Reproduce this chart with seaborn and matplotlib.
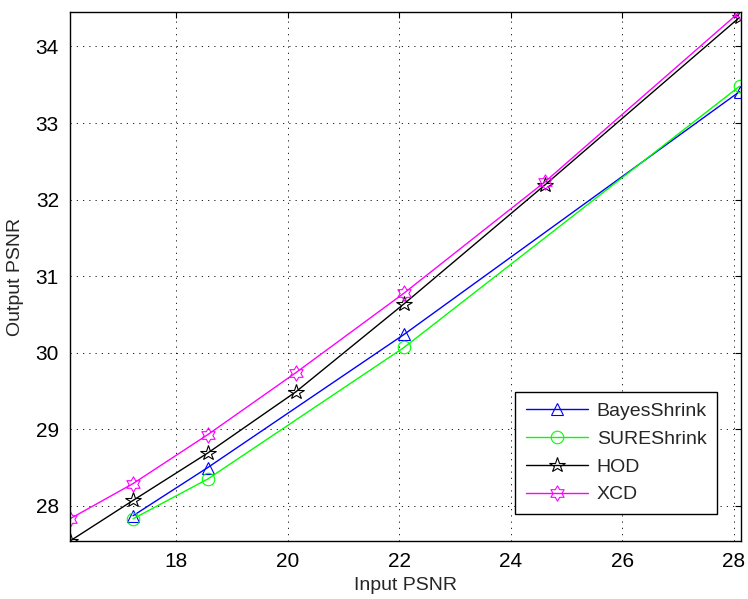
import matplotlib
matplotlib.use("Agg")
import matplotlib.pyplot as plt
from matplotlib.path import Path
import seaborn as sns

# Input PSNR levels (dB)
x_all = [16.1, 17.23, 18.57, 20.15, 22.09, 24.61, 28.1]
x_shrink = [17.23, 18.57, 22.09, 28.1]

# Output PSNR (dB) for each denoising method
bayes_shrink = [27.87, 28.50, 30.24, 33.41]
sure_shrink = [27.83, 28.35, 30.07, 33.48]
hod = [27.54, 28.07, 28.69, 29.49, 30.64, 32.19, 34.38]
xcd = [27.83, 28.29, 28.93, 29.74, 30.78, 32.23, 34.45]

x_ticks = [18, 20, 22, 24, 26, 28]
y_ticks = [28, 29, 30, 31, 32, 33, 34]

sns.set_style("white")
plt.rcParams["font.family"] = ["Liberation Sans", "DejaVu Sans"]

fig = plt.figure(figsize=(7.48, 5.99), dpi=100)
ax = fig.add_axes([70 / 748, 1 - 541 / 599, (740.7 - 70) / 748, (541 - 12) / 599])

# six-pointed open star (hexagram)
hexagram = Path.unit_regular_star(6, 0.577)

series = [
    ("BayesShrink", x_shrink, bayes_shrink, "#0000ff", "^", 9),
    ("SUREShrink", x_shrink, sure_shrink, "#00ff00", "o", 9),
    ("HOD", x_all, hod, "#000000", "*", 11.5),
    ("XCD", x_all, xcd, "#ff00ff", hexagram, 11),
]

for name, xs, ys, color, marker, ms in series:
    sns.lineplot(x=xs, y=ys, ax=ax, color=color, marker=marker, markersize=ms,
                 markerfacecolor="none", markeredgecolor=color,
                 markeredgewidth=0.8, linewidth=1.0, label=name, sort=False)

ax.set_xlim(16.1, 28.12)
ax.set_ylim(27.54, 34.45)
ax.set_xticks(x_ticks)
ax.set_yticks(y_ticks)
ax.tick_params(direction="in", length=4, width=0.8, labelsize=15,
               top=True, right=True, colors="black", pad=8)
ax.grid(True, color="black", linestyle=(0, (1.5, 6)), linewidth=0.6)

for sp in ax.spines.values():
    sp.set_visible(True)
    sp.set_color("black")
    sp.set_linewidth(1.0)

ax.set_xlabel("Input PSNR", fontsize=14, labelpad=4)
ax.set_ylabel("Output PSNR", fontsize=14, labelpad=8)

leg = ax.legend(loc="lower left", bbox_to_anchor=(515 / 748, 1 - 514 / 599),
                bbox_transform=fig.transFigure, fontsize=14, frameon=True,
                fancybox=False, edgecolor="black", framealpha=1,
                handlelength=3.2, handletextpad=0.45, labelspacing=0.52,
                borderpad=0.55, borderaxespad=0)
leg.get_frame().set_linewidth(1.0)

fig.savefig("out.png", dpi=100)
